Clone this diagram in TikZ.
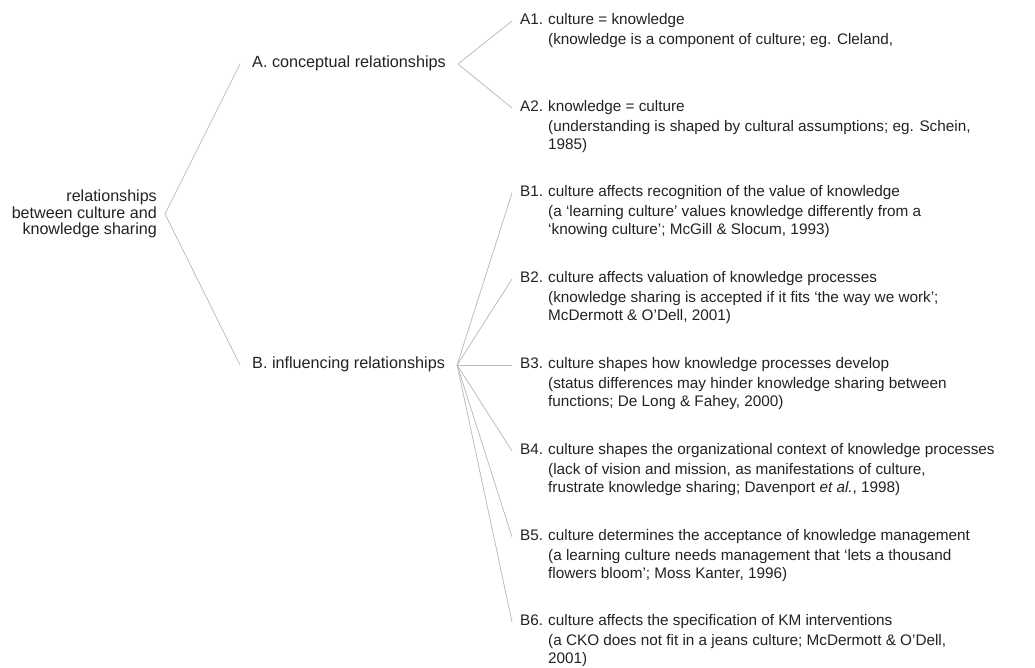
\documentclass[tikz,border=0pt]{standalone}
\usepackage{fontspec}
\setmainfont{Liberation Sans}
\usepackage{tikz}
\usetikzlibrary{positioning}
\definecolor{linkgray}{HTML}{BDBDBD}
\definecolor{inkgray}{HTML}{222222}

\begin{document}
\begin{tikzpicture}[x=1pt, y=-1pt,
    every node/.style={font=\fontsize{15.3pt}{17.5pt}\selectfont, text=inkgray},
    link/.style={draw=linkgray, line width=0.8pt},
    rootbox/.style={anchor=east, align=right, inner xsep=8pt, font=\fontsize{16.1pt}{16.5pt}\selectfont},
    branch/.style={anchor=west, inner xsep=12pt, text height=11pt, text depth=3.5pt, font=\fontsize{16.2pt}{17.5pt}\selectfont},
    tag/.style={anchor=west, inner xsep=8pt, inner ysep=0pt, text height=11pt, text depth=3.5pt},
    title/.style={anchor=west, inner sep=0pt, text height=11pt, text depth=3.5pt},
    remark/.style={align=left, inner sep=0pt}]
  \useasboundingbox (0,0) rectangle (1035,668);

  % raiz e ramos
  \node[rootbox] (rel) at (165,214) {relationships\\between culture and\\knowledge sharing};
  \node[branch] (concep) at (240,64) {A. conceptual relationships};
  \node[branch] (influ) at (240,365) {B. influencing relationships};

  % A: relacoes conceituais
  \node[tag] (a1) at (512,21) {A1.};
  \node[title] (a1t) at (548,21) {culture = knowledge};
  \node[remark, below right=5pt and 0pt of a1t.south west] (a1r) {(knowledge is a component of culture; eg. Cleland,};

  \node[tag] (a2) at (512,108) {A2.};
  \node[title] (a2t) at (548,108) {knowledge = culture};
  \node[remark, below right=5pt and 0pt of a2t.south west] (a2r) {(understanding is shaped by cultural assumptions; eg. Schein,\\1985)};

  % B: relacoes de influencia
  \node[tag] (b1) at (512,193) {B1.};
  \node[title] (b1t) at (548,193) {culture affects recognition of the value of knowledge};
  \node[remark, below right=5pt and 0pt of b1t.south west] (b1r) {(a ‘learning culture’ values knowledge differently from a\\‘knowing culture’; McGill \& Slocum, 1993)};

  \node[tag] (b2) at (512,279) {B2.};
  \node[title] (b2t) at (548,279) {culture affects valuation of knowledge processes};
  \node[remark, below right=5pt and 0pt of b2t.south west] (b2r) {(knowledge sharing is accepted if it fits ‘the way we work’;\\McDermott \& O’Dell, 2001)};

  \node[tag] (b3) at (512,365) {B3.};
  \node[title] (b3t) at (548,365) {culture shapes how knowledge processes develop};
  \node[remark, below right=5pt and 0pt of b3t.south west] (b3r) {(status differences may hinder knowledge sharing between\\functions; De Long \& Fahey, 2000)};

  \node[tag] (b4) at (512,451) {B4.};
  \node[title] (b4t) at (548,451) {culture shapes the organizational context of knowledge processes};
  \node[remark, below right=5pt and 0pt of b4t.south west] (b4r) {(lack of vision and mission, as manifestations of culture,\\frustrate knowledge sharing; Davenport \textit{et al.}, 1998)};

  \node[tag] (b5) at (512,537) {B5.};
  \node[title] (b5t) at (548,537) {culture determines the acceptance of knowledge management};
  \node[remark, below right=5pt and 0pt of b5t.south west] (b5r) {(a learning culture needs management that ‘lets a thousand\\flowers bloom’; Moss Kanter, 1996)};

  \node[tag] (b6) at (512,622) {B6.};
  \node[title] (b6t) at (548,622) {culture affects the specification of KM interventions};
  \node[remark, below right=5pt and 0pt of b6t.south west] (b6r) {(a CKO does not fit in a jeans culture; McDermott \& O’Dell,\\2001)};

  % ligacoes
  \draw[link] (rel.east) -- (concep.west);
  \draw[link] (rel.east) -- (influ.west);
  \draw[link] (concep.east) -- (a1.west);
  \draw[link] (concep.east) -- (a2.west);
  \draw[link] (influ.east) -- (b1.west);
  \draw[link] (influ.east) -- (b2.west);
  \draw[link] (influ.east) -- (b3.west);
  \draw[link] (influ.east) -- (b4.west);
  \draw[link] (influ.east) -- (b5.west);
  \draw[link] (influ.east) -- (b6.west);
\end{tikzpicture}
\end{document}
